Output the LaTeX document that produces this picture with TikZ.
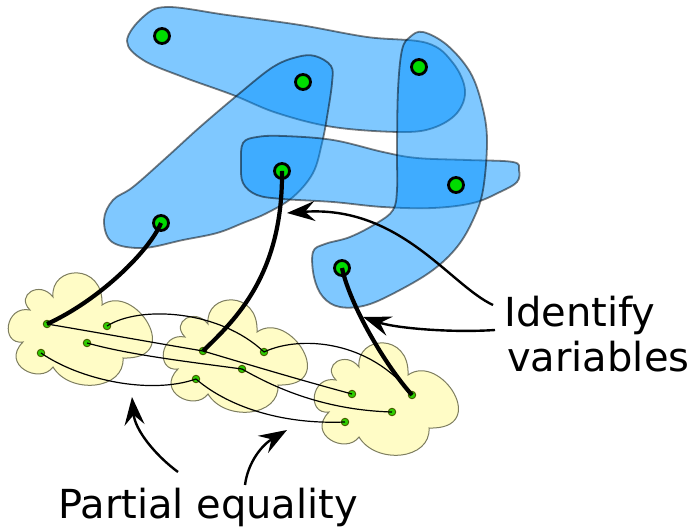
\documentclass[tikz,border=0pt]{standalone}
\usepackage{fontspec}
\setmainfont{DejaVu Sans}
\usetikzlibrary{arrows.meta}

\definecolor{setblue}{RGB}{0,145,255}
\definecolor{dotgreen}{RGB}{0,220,0}
\definecolor{smallgreen}{RGB}{45,205,0}
\definecolor{smallrim}{RGB}{70,90,0}
\definecolor{cloudfill}{RGB}{255,252,198}
\definecolor{cloudline}{RGB}{125,125,95}

\tikzset{
  setblob/.style={fill=setblue, fill opacity=0.5, draw=black, draw opacity=0.5, line width=1.8pt},
  bigdot/.style={circle, fill=dotgreen, draw=black, line width=2.8pt, minimum size=15pt, inner sep=0pt},
  smalldot/.style={circle, fill=smallgreen, draw=smallrim, line width=0.9pt, minimum size=7.5pt, inner sep=0pt},
  identline/.style={line width=4.2pt},
  eqline/.style={line width=1.2pt},
  callout/.style={line width=2.4pt, -{Stealth[length=28pt,width=20pt,inset=10pt]}},
  bigtext/.style={font=\fontsize{40}{48}\selectfont, inner sep=0pt, anchor=base west},
  % one pale six-lobed cloud around (80,328); shifted copies give the other two
  cloudblob/.pic={
    \draw[fill=cloudfill, draw=cloudline, line width=1pt]
      (53,297) .. controls (50,265) and (104,262) .. (102,305)
               .. controls (135,282) and (185,360) .. (123,358)
               .. controls (125,390) and (70,395) .. (53,367)
               .. controls (40,385) and (0,365) .. (23,342)
               .. controls (0,345) and (5,305) .. (30,310)
               .. controls (15,295) and (40,280) .. cycle;
  },
}

\begin{document}
\begin{tikzpicture}[x=1pt, y=-1pt]
\useasboundingbox (0,0) rectangle (694,529);

% ---- overlapping sets ----
\path[setblob] plot[smooth cycle, tension=0.6] coordinates {
  (127,41) (143,17) (167,7) (227,15) (300,25) (367,37) (427,43)
  (453,63) (465,90) (457,113) (433,128) (400,132) (333,127)
  (277,113) (233,95) (183,77) (143,60)};
\path[setblob] plot[smooth cycle, tension=0.6] coordinates {
  (104,220) (112,242) (143,248) (183,240) (217,233) (243,223)
  (267,213) (293,197) (313,173) (322,143) (327,117) (332,83)
  (331,66) (315,56) (297,57) (273,67) (240,93) (200,127)
  (167,157) (133,187) (113,200)};
\path[setblob] plot[smooth cycle, tension=0.6] coordinates {
  (243,143) (257,137) (283,136) (333,140) (383,152) (417,158)
  (467,160) (513,162) (519,170) (517,182) (500,192) (473,203)
  (433,208) (383,207) (333,202) (283,199) (257,195) (243,183)
  (241,163)};
\path[setblob] plot[smooth cycle, tension=0.6] coordinates {
  (423,32) (447,45) (470,72) (482,105) (487,140) (483,190)
  (473,220) (457,247) (433,270) (400,290) (367,305) (340,307)
  (323,297) (314,277) (313,252) (325,244) (350,237) (377,223)
  (393,210) (397,190) (397,150) (398,90) (402,50) (410,37)};

% ---- variables of the sets ----
\node[bigdot] (s1) at (162,36) {};
\node[bigdot] (s2) at (303,82) {};
\node[bigdot] (s3) at (419,67) {};
\node[bigdot] (s4) at (456,185) {};
\node[bigdot] (s5) at (282,171) {};
\node[bigdot] (s6) at (161,223) {};
\node[bigdot] (s7) at (342,268) {};

% ---- the three structures ----
\pic at (0,0) {cloudblob};
\pic at (155,27) {cloudblob};
\pic at (306,70) {cloudblob};

\node[smalldot] (pa) at (47,324) {};
\node[smalldot] (pb) at (107,326) {};
\node[smalldot] (pc) at (87,343) {};
\node[smalldot] (pd) at (41,353) {};

\node[smalldot] (qa) at (203,351) {};
\node[smalldot] (qb) at (264,352) {};
\node[smalldot] (qc) at (242,369) {};
\node[smalldot] (qd) at (196,379) {};

\node[smalldot] (ra) at (352,394) {};
\node[smalldot] (rb) at (412,395) {};
\node[smalldot] (rc) at (392,412) {};
\node[smalldot] (rd) at (345,422) {};

% ---- partial equality links ----
\draw[eqline] (pa.center) .. controls (100,333) and (150,342) .. (qa.center);
\draw[eqline] (qa.center) .. controls (250,365) and (300,380) .. (ra.center);
\draw[eqline] (pb.center) .. controls (140,305) and (220,310) .. (qb.center);
\draw[eqline] (qb.center) .. controls (300,335) and (370,340) .. (rb.center);
\draw[eqline] (pc.center) .. controls (130,355) and (190,362) .. (qc.center);
\draw[eqline] (qc.center) .. controls (270,385) and (320,410) .. (rc.center);
\draw[eqline] (pd.center) .. controls (80,380) and (150,395) .. (qd.center);
\draw[eqline] (qd.center) .. controls (220,400) and (270,425) .. (rd.center);

% ---- identification links ----
\draw[identline] (pa.center) .. controls (100,300) and (150,250) .. (s6.center);
\draw[identline] (qa.center) .. controls (235,320) and (283,275) .. (s5.center);
\draw[identline] (rb.center) .. controls (385,365) and (350,305) .. (s7.center);

% ---- captions ----
\node[bigtext] (identify) at (504,327) {Identify};
\node[bigtext] (variables) at (507,372) {variables};
\node[bigtext] (partial) at (58,518) {Partial equality};

\coordinate (idfromA) at (493,305);
\coordinate (idtoA) at (287,213);
\coordinate (idfromB) at (495,330);
\coordinate (idtoB) at (363,317);
\coordinate (eqfromA) at (178,472);
\coordinate (eqtoA) at (132,397);
\coordinate (eqfromB) at (245,485);
\coordinate (eqtoB) at (287,430);

\draw[callout] (idfromA) .. controls (450,285) and (400,205) .. (idtoA);
\draw[callout] (idfromB) .. controls (450,333) and (395,328) .. (idtoB);
\draw[callout] (eqfromA) .. controls (155,455) and (135,430) .. (eqtoA);
\draw[callout] (eqfromB) .. controls (248,462) and (262,445) .. (eqtoB);
\end{tikzpicture}
\end{document}
